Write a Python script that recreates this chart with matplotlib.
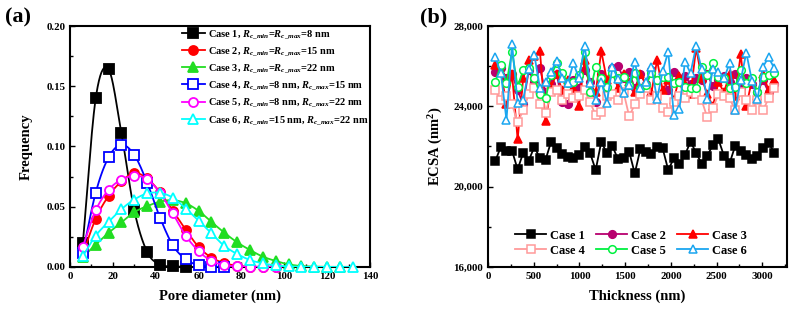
import numpy as np
import matplotlib
matplotlib.use("Agg")
import matplotlib.pyplot as plt
from matplotlib.ticker import MultipleLocator, FuncFormatter

plt.rcParams['font.family'] = ['Liberation Serif', 'DejaVu Serif']
plt.rcParams['font.weight'] = 'bold'
plt.rcParams['mathtext.fontset'] = 'custom'
plt.rcParams['mathtext.rm'] = 'Liberation Serif:bold'
plt.rcParams['mathtext.it'] = 'Liberation Serif:italic:bold'
plt.rcParams['mathtext.bf'] = 'Liberation Serif:bold'

# ---------------- Panel (a) data ----------------
pore_d = [6, 12, 18, 24, 30, 36, 42, 48, 54, 60, 66, 72, 78, 84, 90, 96,
          102, 108, 114, 120, 126, 132]
freq_case1 = [0.020, 0.140, 0.164, 0.111, 0.047, 0.0125, 0.002, 0.0005, 0.0002]
freq_case2 = [0.011, 0.040, 0.059, 0.071, 0.078, 0.0735, 0.062, 0.0467, 0.031,
              0.0167, 0.0078, 0.0033, 0.001, 0.0003, 0.0001, 0.0]
freq_case3 = [0.0083, 0.0186, 0.0283, 0.037, 0.0455, 0.0505, 0.0542, 0.0555,
              0.0529, 0.0466, 0.0374, 0.0285, 0.0205, 0.0141, 0.0086, 0.005,
              0.0022, 0.0008, 0.0003, 0.0001, 0.0]
freq_case4 = [0.012, 0.0617, 0.091, 0.1014, 0.093, 0.070, 0.041, 0.018, 0.0064,
              0.0015, 0.0003, 0.0001]
freq_case5 = [0.017, 0.047, 0.064, 0.0725, 0.0755, 0.073, 0.0615, 0.0444, 0.026,
              0.0133, 0.005, 0.0017, 0.0005, 0.0002, 0.0001, 0.0]
freq_case6 = [0.009, 0.026, 0.0375, 0.048, 0.056, 0.061, 0.0615, 0.0575, 0.0485,
              0.0385, 0.028, 0.0175, 0.0108, 0.0058, 0.003, 0.0013, 0.0005,
              0.0002, 0.0001, 0.0, 0.0, 0.0]

labels_a = [r'Case 1, $R_{c\_min}$=$R_{c\_max}$=8 nm',
            r'Case 2, $R_{c\_min}$=$R_{c\_max}$=15 nm',
            r'Case 3, $R_{c\_min}$=$R_{c\_max}$=22 nm',
            r'Case 4, $R_{c\_min}$=8 nm, $R_{c\_max}$=15 nm',
            r'Case 5, $R_{c\_min}$=8 nm, $R_{c\_max}$=22 nm',
            r'Case 6, $R_{c\_min}$=15 nm, $R_{c\_max}$=22 nm']

# ---------------- Panel (b) data ----------------
thickness = [80, 141, 202, 263, 324, 385, 446, 507, 568, 629, 690, 751, 812,
             873, 934, 995, 1056, 1117, 1178, 1239, 1300, 1361, 1422, 1483,
             1544, 1605, 1666, 1727, 1788, 1849, 1910, 1971, 2032, 2093, 2154,
             2215, 2276, 2337, 2398, 2459, 2520, 2581, 2642, 2703, 2764, 2825,
             2886, 2947, 3008, 3069, 3130]
ecsa_case1 = [21280, 21990, 21790, 21790, 20860, 21690, 21300, 21990, 21410,
              21330, 22240, 21910, 21630, 21500, 21410, 21580, 21990, 21660,
              20830, 22240, 21660, 22020, 21360, 21410, 21740, 20660, 21860,
              21740, 21630, 21990, 21910, 20830, 21410, 21130, 21580, 22240,
              21690, 21130, 21530, 22080, 22360, 21530, 21160, 22030, 21790,
              21580, 21360, 21530, 21910, 22190, 21690]
ecsa_case2 = [25700, 25900, 25400, 25600, 24800, 24100, 25800, 25200, 25900,
              24700, 25100, 25600, 24200, 24100, 25300, 24900, 25800, 25200,
              24200, 25600, 24600, 25900, 26000, 25400, 25700, 24900, 25600,
              25100, 25800, 25300, 25500, 24800, 25700, 25200, 25500, 25100,
              25400, 25300, 25600, 25000, 25300, 25500, 25200, 25600, 24900,
              25400, 25100, 24700, 25300, 24700, 25100]
ecsa_case3 = [26050, 25700, 24100, 25600, 22350, 25400, 26300, 26500, 26750,
              23250, 25000, 25600, 24800, 25300, 24900, 24000, 26300, 25000,
              24700, 26750, 25300, 25700, 24900, 25600, 25200, 24700, 25600,
              25100, 24700, 26300, 24800, 25300, 24300, 25500, 25100, 24600,
              26900, 25400, 24600, 24000, 25200, 24700, 25600, 24500, 26600,
              24000, 25300, 24500, 25600, 24800, 25300]
ecsa_case4 = [24800, 24300, 24500, 24100, 23200, 23800, 24600, 24900, 24100,
              23650, 24700, 24800, 24300, 24600, 24400, 24500, 24800, 24200,
              23550, 23700, 24500, 24600, 24300, 24700, 23500, 24100, 24600,
              24900, 24300, 24500, 23900, 23700, 24200, 24500, 24400, 24700,
              24600, 24300, 23450, 23900, 24600, 24500, 24400, 23800, 24700,
              24300, 23800, 24300, 23800, 24400, 24900]
ecsa_case5 = [25230, 26060, 25150, 26730, 24980, 25810, 25890, 25400, 24620,
              24400, 25560, 26140, 25650, 25180, 25230, 25560, 26730, 24730,
              25980, 25400, 24980, 25650, 25400, 25450, 25060, 25650, 24900,
              25060, 25650, 25310, 25480, 25450, 25150, 25230, 24980, 24900,
              24900, 25980, 25560, 26140, 25480, 25400, 24900, 24980, 25810,
              25150, 25400, 24730, 25480, 25560, 25650]
ecsa_case6 = [26440, 25650, 23320, 27100, 24180, 24320, 25840, 26560, 24900,
              25230, 25730, 26270, 25400, 25180, 26140, 25400, 27000, 25180,
              24320, 25230, 24180, 25980, 25350, 24680, 25060, 26230, 24900,
              25230, 25980, 24350, 25760, 26720, 23570, 23850, 26230, 25650,
              27000, 25840, 24350, 25840, 25730, 25400, 26140, 23820, 25300,
              26670, 25280, 24350, 25980, 26440, 25900]
labels_b = ['Case 1', 'Case 2', 'Case 3', 'Case 4', 'Case 5', 'Case 6']


def smooth(x, y, n=20):
    """Catmull-Rom spline through the data points (rendering only)."""
    x = np.asarray(x, float)
    y = np.asarray(y, float)
    px = np.concatenate([[2 * x[0] - x[1]], x, [2 * x[-1] - x[-2]]])
    py = np.concatenate([[2 * y[0] - y[1]], y, [2 * y[-1] - y[-2]]])
    xs, ys = [], []
    t = np.linspace(0, 1, n, endpoint=False)
    for i in range(1, len(px) - 2):
        for arr, out in ((px, xs), (py, ys)):
            p0, p1, p2, p3 = arr[i - 1], arr[i], arr[i + 1], arr[i + 2]
            out.append(0.5 * ((2 * p1) + (-p0 + p2) * t +
                              (2 * p0 - 5 * p1 + 4 * p2 - p3) * t ** 2 +
                              (-p0 + 3 * p1 - 3 * p2 + p3) * t ** 3))
    xs = np.concatenate(xs + [[x[-1]]])
    ys = np.concatenate(ys + [[y[-1]]])
    return xs, np.clip(ys, 0, None)


fig = plt.figure(figsize=(7.94, 3.16), dpi=100)
ax1 = fig.add_axes([70 / 794, 49 / 316, 300 / 794, 241 / 316])
ax2 = fig.add_axes([488 / 794, 49 / 316, 299 / 794, 241 / 316])

# ---------------- Panel (a) ----------------
series_a = [freq_case1, freq_case2, freq_case3, freq_case4, freq_case5, freq_case6]
colors_a = ['#000000', '#FF0000', '#22DD22', '#0000FF', '#FF00FF', '#00FFFF']
markers_a = ['s', 'o', '^', 's', 'o', '^']
filled_a = [True, True, True, False, False, False]
handles_a = []
for i, (ys, c, m, f, lab) in enumerate(zip(series_a, colors_a, markers_a, filled_a, labels_a)):
    xs = pore_d[:len(ys)]
    sx, sy = smooth(xs, ys)
    ax1.plot(sx, sy, color=c, lw=1.3, zorder=2 + i)
    ax1.plot(xs, ys, ls='none', marker=m, ms=6.5,
             mfc=c if f else 'white', mec=c, mew=1.3, zorder=2 + i, clip_on=False)
    h, = ax1.plot([], [], color=c, lw=1.3, marker=m, ms=6.5,
                  mfc=c if f else 'white', mec=c, mew=1.3)
    handles_a.append(h)

ax1.set_xlim(0, 140)
ax1.set_ylim(0, 0.20)
ax1.xaxis.set_major_locator(MultipleLocator(20))
ax1.xaxis.set_minor_locator(MultipleLocator(10))
ax1.yaxis.set_major_locator(MultipleLocator(0.05))
ax1.yaxis.set_minor_locator(MultipleLocator(0.025))
ax1.yaxis.set_major_formatter(FuncFormatter(lambda v, p: f'{v:.2f}'))
ax1.set_xlabel('Pore diameter (nm)', fontsize=10.5, fontweight='bold', labelpad=6)
ax1.set_ylabel('Frequency', fontsize=10.5, fontweight='bold', labelpad=10)
ax1.legend(handles_a, labels_a, loc='upper left', bbox_to_anchor=(0.372, 0.99),
           frameon=False, fontsize=7.5, handlelength=2.2, handletextpad=0.3,
           labelspacing=0.44, borderpad=0, borderaxespad=0)
fig.text(5 / 794, 1 - 17 / 316, '(a)', fontsize=16, fontweight='bold', va='center', ha='left')

# ---------------- Panel (b) ----------------
series_b = [ecsa_case1, ecsa_case2, ecsa_case3, ecsa_case4, ecsa_case5, ecsa_case6]
colors_b = ['#000000', '#B8006E', '#FF0000', '#FF9A9A', '#00F040', '#1AA6F0']
markers_b = ['s', 'o', '^', 's', 'o', '^']
filled_b = [True, True, True, False, False, False]
handles_b = []
for i, (ys, c, m, f, lab) in enumerate(zip(series_b, colors_b, markers_b, filled_b, labels_b)):
    h, = ax2.plot(thickness, ys, color=c, lw=1.3, marker=m, ms=5.5,
                  mfc=c if f else 'white', mec=c, mew=1.1, label=lab, zorder=2 + i)
    handles_b.append(h)

ax2.set_xlim(0, 3270)
ax2.set_ylim(16000, 28000)
ax2.xaxis.set_major_locator(MultipleLocator(500))
ax2.xaxis.set_minor_locator(MultipleLocator(250))
ax2.yaxis.set_major_locator(MultipleLocator(4000))
ax2.yaxis.set_minor_locator(MultipleLocator(2000))
ax2.yaxis.set_major_formatter(FuncFormatter(lambda v, p: f'{int(v):,}'))
ax2.set_xlabel('Thickness (nm)', fontsize=10.5, fontweight='bold', labelpad=6)
ax2.set_ylabel('ECSA (nm$^2$)', fontsize=10.5, fontweight='bold', labelpad=6)
order = [0, 3, 1, 4, 2, 5]
ax2.legend([handles_b[k] for k in order], [labels_b[k] for k in order],
           loc='upper left', bbox_to_anchor=(0.09, 0.155), ncol=3,
           frameon=False, fontsize=9, handlelength=2.5, handletextpad=0.3,
           labelspacing=0.25, columnspacing=0.9, borderpad=0, borderaxespad=0)
fig.text(420 / 794, 1 - 17 / 316, '(b)', fontsize=16, fontweight='bold', va='center', ha='left')

for ax in (ax1, ax2):
    for s in ax.spines.values():
        s.set_linewidth(1.5)
    ax.tick_params(which='both', direction='in', top=False, right=False,
                   labelsize=7.8, width=1.0)
    ax.tick_params(which='major', length=3.5)
    ax.tick_params(which='minor', length=2)
    for t in ax.get_xticklabels() + ax.get_yticklabels():
        t.set_fontweight('bold')

fig.savefig('out.png', dpi=100)
